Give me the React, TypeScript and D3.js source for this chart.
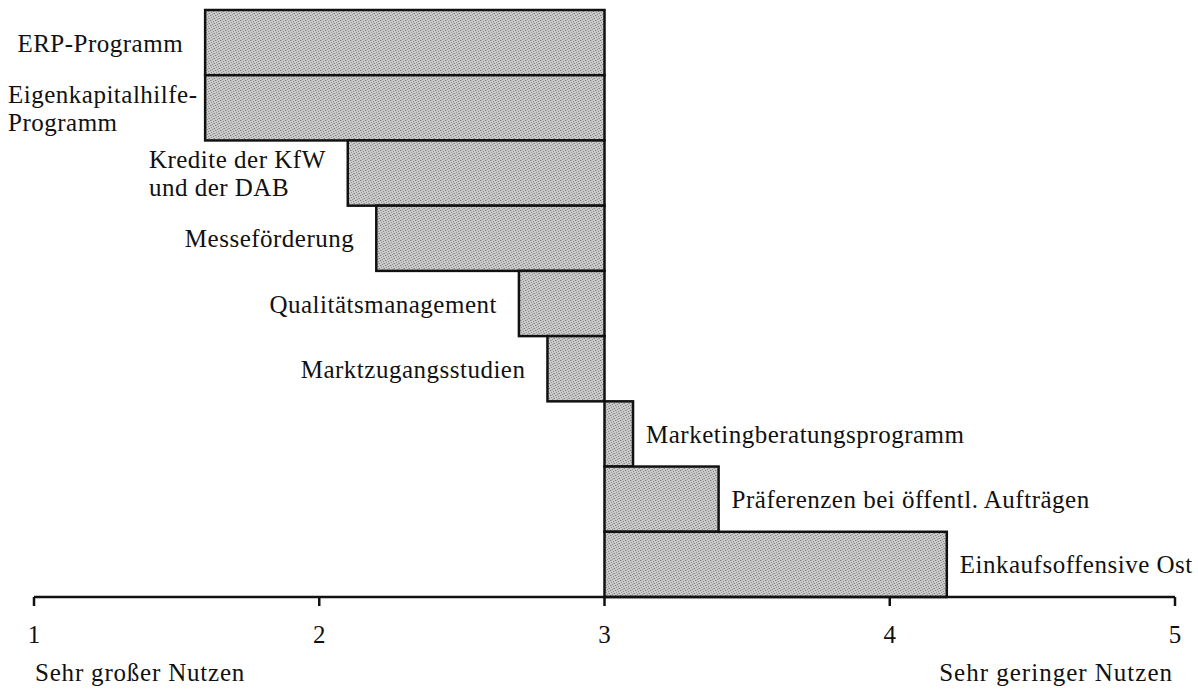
import React, { useRef, useEffect } from "react";
import * as d3 from "d3";

// Bewertung der Förderprogramme (1 = sehr großer Nutzen, 5 = sehr geringer Nutzen)
const categories: string[][] = [
  ["ERP-Programm"],
  ["Eigenkapitalhilfe-", "Programm"],
  ["Kredite der KfW", "und der DAB"],
  ["Messeförderung"],
  ["Qualitätsmanagement"],
  ["Marktzugangsstudien"],
  ["Marketingberatungsprogramm"],
  ["Präferenzen bei öffentl. Aufträgen"],
  ["Einkaufsoffensive Ost"],
];
const values = [1.6, 1.6, 2.1, 2.2, 2.7, 2.8, 3.1, 3.4, 4.2];
const midpoint = 3;
const tickValues = [1, 2, 3, 4, 5];
const endLabels = ["Sehr großer Nutzen", "Sehr geringer Nutzen"];

const dimensions = {
  width: 1198,
  height: 695,
  left: 34,
  right: 1175,
  top: 10,
  axisY: 597,
};

const FONT = "'Liberation Serif', 'Times New Roman', serif";

const App = () => {
  const ref = useRef<SVGSVGElement>(null);

  useEffect(() => {
    const svg = d3.select(ref.current);
    svg.selectAll("*").remove();

    const xScale = d3
      .scaleLinear()
      .domain([1, 5])
      .range([dimensions.left, dimensions.right]);

    const yScale = d3
      .scaleBand<number>()
      .domain(d3.range(values.length))
      .range([dimensions.top, dimensions.axisY])
      .padding(0);

    // grainy grey fill, like the scanned halftone
    const defs = svg.append("defs");
    const pat = defs
      .append("pattern")
      .attr("id", "halftone")
      .attr("width", 5)
      .attr("height", 5)
      .attr("patternUnits", "userSpaceOnUse");
    pat.append("rect").attr("width", 5).attr("height", 5).attr("fill", "#cacaca");
    const dots: [number, number, string][] = [
      [0, 0, "#7d7d7d"],
      [3, 1, "#8a8a8a"],
      [1, 2, "#959595"],
      [4, 3, "#858585"],
      [2, 4, "#909090"],
      [1, 0, "#b0b0b0"],
      [3, 3, "#a8a8a8"],
    ];
    dots.forEach(([x, y, c]) =>
      pat.append("rect").attr("x", x).attr("y", y).attr("width", 1).attr("height", 1).attr("fill", c)
    );

    const idx = d3.range(values.length);

    svg
      .append("g")
      .selectAll("rect")
      .data(idx)
      .join("rect")
      .attr("x", (i) => xScale(Math.min(values[i], midpoint)))
      .attr("y", (i) => yScale(i)!)
      .attr("width", (i) => Math.abs(xScale(values[i]) - xScale(midpoint)))
      .attr("height", yScale.bandwidth())
      .attr("fill", "url(#halftone)")
      .attr("stroke", "#111")
      .attr("stroke-width", 2.5);

    // category labels
    const labelGroup = svg
      .append("g")
      .attr("font-family", FONT)
      .attr("font-size", 25)
      .attr("letter-spacing", 0.5)
      .attr("fill", "#111");

    const lineHeight = 28;
    idx.forEach((i) => {
      const lines = categories[i];
      const cy = yScale(i)! + yScale.bandwidth() / 2;
      const firstBaseline = cy - ((lines.length - 1) * lineHeight) / 2 + 9;
      const leftSide = values[i] < midpoint;
      const t = labelGroup.append("text");
      lines.forEach((line, j) => {
        t.append("tspan")
          .attr("x", 0)
          .attr("y", firstBaseline + j * lineHeight)
          .text(line);
      });
      const w = (t.node() as SVGTextElement).getBBox().width;
      const x = leftSide
        ? Math.max(8, xScale(values[i]) - 22 - w)
        : xScale(values[i]) + 13;
      t.selectAll("tspan").attr("x", x);
    });

    // axis
    const axisG = svg.append("g");
    axisG
      .append("line")
      .attr("x1", xScale(1))
      .attr("x2", xScale(5))
      .attr("y1", dimensions.axisY)
      .attr("y2", dimensions.axisY)
      .attr("stroke", "#111")
      .attr("stroke-width", 2.5);
    axisG
      .selectAll("line.tick")
      .data(tickValues)
      .join("line")
      .attr("class", "tick")
      .attr("x1", (d) => xScale(d))
      .attr("x2", (d) => xScale(d))
      .attr("y1", dimensions.axisY)
      .attr("y2", dimensions.axisY + 9)
      .attr("stroke", "#111")
      .attr("stroke-width", 2.5);
    axisG
      .selectAll("text.ticklabel")
      .data(tickValues)
      .join("text")
      .attr("class", "ticklabel")
      .attr("x", (d) => xScale(d))
      .attr("y", 643)
      .attr("text-anchor", "middle")
      .attr("font-family", FONT)
      .attr("font-size", 25)
      .attr("fill", "#111")
      .text((d) => d);

    // end labels
    svg
      .append("text")
      .attr("x", xScale(1) + 1)
      .attr("y", 681)
      .attr("font-family", FONT)
      .attr("font-size", 25)
      .attr("letter-spacing", 0.8)
      .attr("fill", "#111")
      .text(endLabels[0]);
    svg
      .append("text")
      .attr("x", xScale(5) - 2)
      .attr("y", 681)
      .attr("text-anchor", "end")
      .attr("font-family", FONT)
      .attr("font-size", 25)
      .attr("letter-spacing", 1)
      .attr("fill", "#111")
      .text(endLabels[1]);

    return () => undefined;
  }, []);

  return (
    <svg
      ref={ref}
      width={dimensions.width}
      height={dimensions.height}
      style={{ position: "absolute", left: 0, top: 0, background: "#fff", display: "block" }}
    />
  );
};

export default App;
